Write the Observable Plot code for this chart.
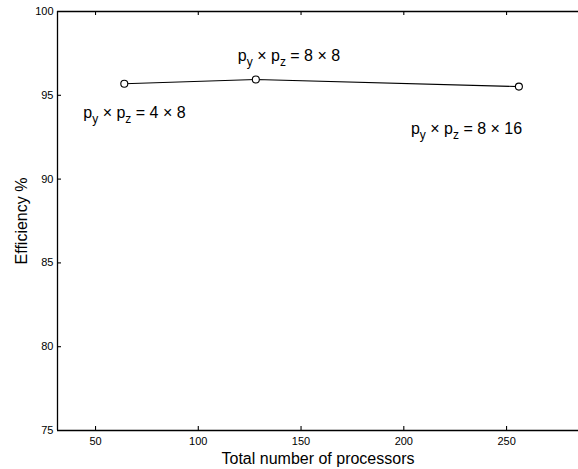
<!DOCTYPE html>
<html>
<head>
<meta charset="utf-8">
<script src="https://cdn.jsdelivr.net/npm/d3@7"></script>
<script src="https://cdn.jsdelivr.net/npm/@observablehq/plot@0.6"></script>
<style>
  html, body { margin: 0; padding: 0; background: #fff; }
  svg { display: block; }
</style>
</head>
<body>
<div id="chart"></div>
<script>
const processors = [64, 128, 256];
const efficiency = [95.69, 95.94, 95.52];
const labelTexts = ["p_y × p_z = 4 × 8", "p_y × p_z = 8 × 8", "p_y × p_z = 8 × 16"];
const xTicks = [50, 100, 150, 200, 250];
const yTicks = [75, 80, 85, 90, 95, 100];
const xDomain = [31.5, 285];
const yDomain = [75, 100];

const data = processors.map((p, i) => ({p, e: efficiency[i], label: labelTexts[i]}));
const font = "Liberation Sans, Arial, Helvetica, sans-serif";

const W = 578, H = 469, mL = 57, mT = 11, mB = 39, mR = 0;
const innerW = W - mL - mR, innerH = H - mT - mB, tickLen = 4;
const labelOffsets = [[-41, 29], [-18, -24], [-108, 42]];

const chart = Plot.plot({
  width: W,
  height: H,
  marginLeft: mL,
  marginTop: mT,
  marginBottom: mB,
  marginRight: mR,
  style: {fontFamily: font, background: "#fff", color: "#000"},
  x: {domain: xDomain},
  y: {domain: yDomain},
  marks: [
    Plot.ruleY([yDomain[1]], {stroke: "#000", strokeWidth: 1.3}),
    Plot.ruleY([yDomain[0]], {stroke: "#000", strokeWidth: 1.3}),
    Plot.ruleX([xDomain[0]], {stroke: "#000", strokeWidth: 1.3}),
    // inward ticks (MATLAB style)
    Plot.tickX(xTicks, {x: d => d, insetTop: innerH - tickLen, stroke: "#000", strokeWidth: 1.1}),
    Plot.tickX(xTicks, {x: d => d, insetBottom: innerH - tickLen, stroke: "#000", strokeWidth: 1.1}),
    Plot.tickY(yTicks.slice(1, -1), {y: d => d, insetRight: innerW - tickLen, stroke: "#000", strokeWidth: 1.1}),
    Plot.axisX(xTicks, {anchor: "bottom", tickSize: 0, tickPadding: 7, fontSize: 11, label: "Total number of processors", labelAnchor: "center", labelOffset: 33, labelArrow: "none"}),
    Plot.axisY(yTicks, {anchor: "left", tickSize: 0, tickPadding: 4, fontSize: 11, label: "Efficiency %", labelAnchor: "center", labelOffset: 42, labelArrow: "none"}),
    Plot.line(data, {x: "p", y: "e", stroke: "#000", strokeWidth: 1.1}),
    Plot.dot(data, {x: "p", y: "e", r: 3.5, stroke: "#000", fill: "#fff", strokeWidth: 1.1}),
    ...data.map((d, i) => Plot.text([d], {x: "p", y: "e", text: "label", textAnchor: "start", dx: labelOffsets[i][0], dy: labelOffsets[i][1], fontSize: 16, fill: "#000"}))
  ]
});

// style axis labels
d3.select(chart).selectAll("g[aria-label='x-axis label'] text, g[aria-label='y-axis label'] text")
  .style("font-size", "16px");

// subscripts in annotation labels
d3.select(chart).selectAll("g[aria-label='text'] text").each(function() {
  const t = d3.select(this);
  const s = t.text();
  t.text(null);
  const parts = s.split(/_(.)/);
  parts.forEach((part, k) => {
    if (k % 2 === 1) {
      t.append("tspan").attr("dy", 5).attr("font-size", 12).text(part);
    } else if (part) {
      const ts = t.append("tspan").text(part);
      if (k > 0) ts.attr("dy", -5);
    }
  });
});

document.getElementById("chart").appendChild(chart);
</script>
</body>
</html>
